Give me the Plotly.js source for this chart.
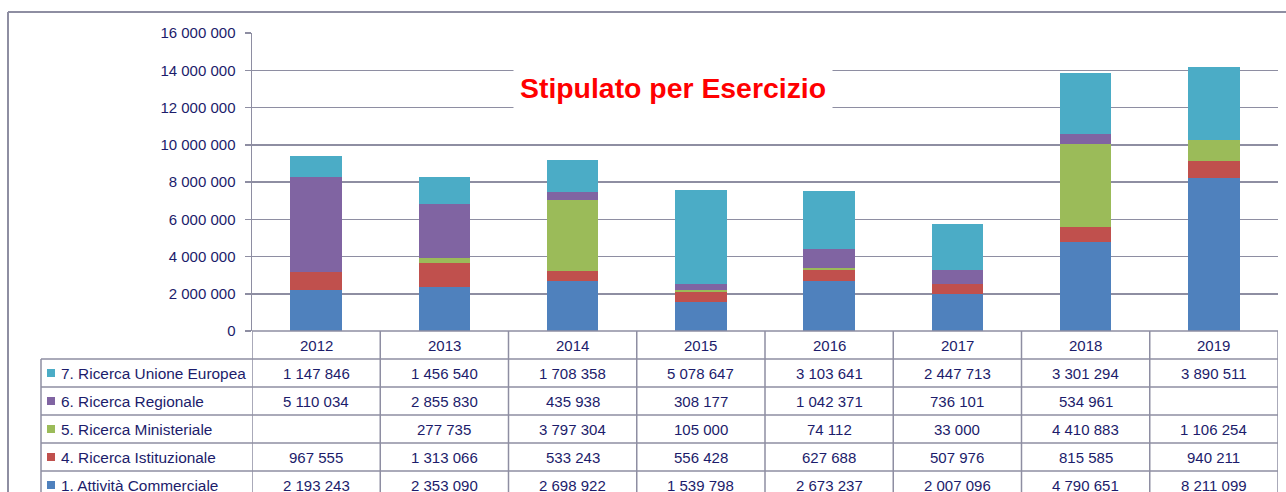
<!DOCTYPE html>
<html>
<head>
<meta charset="utf-8">
<script src="https://cdn.plot.ly/plotly-3.0.1.min.js"></script>
<style>html,body{margin:0;padding:0;background:#fff;}#chart{width:1286px;height:492px;}</style>
</head>
<body>
<div id="chart"></div>
<script>
const years = ['2012','2013','2014','2015','2016','2017','2018','2019'];
const seriesNames = ['1. Attività Commerciale','4. Ricerca Istituzionale','5. Ricerca Ministeriale','6. Ricerca Regionale','7. Ricerca Unione Europea'];
const attivitaCommerciale = [2193243, 2353090, 2698922, 1539798, 2673237, 2007096, 4790651, 8211099];
const ricercaIstituzionale = [967555, 1313066, 533243, 556428, 627688, 507976, 815585, 940211];
const ricercaMinisteriale = [null, 277735, 3797304, 105000, 74112, 33000, 4410883, 1106254];
const ricercaRegionale = [5110034, 2855830, 435938, 308177, 1042371, 736101, 534961, null];
const ricercaUE = [1147846, 1456540, 1708358, 5078647, 3103641, 2447713, 3301294, 3890511];
const seriesColors = ['#4F81BD','#C0504D','#9BBB59','#8064A2','#4BACC6'];
const yTicks = [0,2000000,4000000,6000000,8000000,10000000,12000000,14000000,16000000];
const chartTitle = 'Stipulato per Esercizio';

const seriesValues = [attivitaCommerciale, ricercaIstituzionale, ricercaMinisteriale, ricercaRegionale, ricercaUE];

const W = 1286, H = 492, L = 252, R = 1278, T = 33, B = 331;
const px = x => (x - L) / (R - L);
const py = y => (B - y) / (B - T);
const navy = '#1c1c6b';
const gridC = '#8e8ea2';
const font = 'Arial, "Liberation Sans", sans-serif';

function fmt(v) {
  if (v === null || v === undefined) return '';
  return String(Math.round(v)).replace(/\B(?=(\d{3})+(?!\d))/g, ' ');
}

const traces = seriesValues.map((vals, i) => ({
  type: 'bar', x: years, y: vals, name: seriesNames[i],
  marker: {color: seriesColors[i], line: {width: 0}}, width: 0.4,
  hoverinfo: 'x+y+name'
}));

const shapes = [];
const annotations = [];
const lineStyle = {color: gridC, width: 1.5};

// outer frame
shapes.push({type:'line', xref:'paper', yref:'paper', x0:px(8), x1:px(1290), y0:py(12), y1:py(12), line:{color:gridC, width:2}});
shapes.push({type:'line', xref:'paper', yref:'paper', x0:px(8), x1:px(8), y0:py(12), y1:py(495), line:{color:gridC, width:2}});

// table rows (top to bottom)
const rowOrder = [4,3,2,1,0];
const rowTop = [359, 387, 415, 443, 471];
const rowH = 28;
shapes.push({type:'line', xref:'paper', yref:'paper', x0:px(L), x1:px(R), y0:py(331), y1:py(331), line:lineStyle});
rowTop.forEach(t => shapes.push({type:'line', xref:'paper', yref:'paper', x0:px(41), x1:px(R), y0:py(t), y1:py(t), line:lineStyle}));
shapes.push({type:'line', xref:'paper', yref:'paper', x0:px(41), x1:px(R), y0:py(499), y1:py(499), line:lineStyle});
shapes.push({type:'line', xref:'paper', yref:'paper', x0:px(41), x1:px(41), y0:py(359), y1:py(500), line:lineStyle});
for (let i = 0; i <= years.length; i++) {
  shapes.push({type:'line', xref:'x', yref:'paper', x0:i-0.5, x1:i-0.5, y0:py(331), y1:py(500), line:lineStyle});
}

years.forEach((yr, i) => annotations.push({xref:'x', yref:'paper', x:i, y:py(345), text:yr, showarrow:false,
  font:{family:font, size:15, color:navy}, xanchor:'center', yanchor:'middle'}));

rowOrder.forEach((si, r) => {
  const cy = rowTop[r] + rowH / 2;
  shapes.push({type:'rect', xref:'paper', yref:'paper', x0:px(47), x1:px(55), y0:py(cy-4), y1:py(cy+4),
    fillcolor:seriesColors[si], line:{width:0}});
  annotations.push({xref:'paper', yref:'paper', x:px(59), y:py(cy), text:seriesNames[si], showarrow:false,
    font:{family:font, size:15.4, color:navy}, xanchor:'left', yanchor:'middle'});
  seriesValues[si].forEach((v, i) => {
    if (v === null) return;
    annotations.push({xref:'x', yref:'paper', x:i, y:py(cy), text:fmt(v), showarrow:false,
      font:{family:font, size:15, color:navy}, xanchor:'center', yanchor:'middle'});
  });
});

annotations.push({xref:'paper', yref:'paper', x:px(673), y:py(88), text:'<b>' + chartTitle + '</b>', showarrow:false,
  font:{family:font, size:28.4, color:'#FF0000'}, bgcolor:'#ffffff', borderpad:6, xanchor:'center', yanchor:'middle'});

const layout = {
  width: W, height: H,
  margin: {l: L, r: W - R, t: T, b: H - B, pad: 0},
  paper_bgcolor: '#ffffff', plot_bgcolor: '#ffffff',
  barmode: 'stack', showlegend: false,
  separators: ', ',
  xaxis: {type:'category', range:[-0.5, years.length - 0.5], showticklabels:false, ticks:'', showgrid:false, zeroline:false, showline:false, fixedrange:true},
  yaxis: {range:[0, 16000000], tickvals: yTicks, ticktext: yTicks.map(fmt), ticks:'outside', ticklen:6, tickwidth:1.5, tickcolor:gridC,
    showline:true, linecolor:gridC, linewidth:1.5, showgrid:true, gridcolor:gridC, gridwidth:1.5, zeroline:false,
    tickfont:{family:font, size:15, color:navy}, ticklabelstandoff:6, fixedrange:true},
  shapes: shapes, annotations: annotations
};

Plotly.newPlot('chart', traces, layout, {displayModeBar:false, staticPlot:true});
</script>
</body>
</html>
